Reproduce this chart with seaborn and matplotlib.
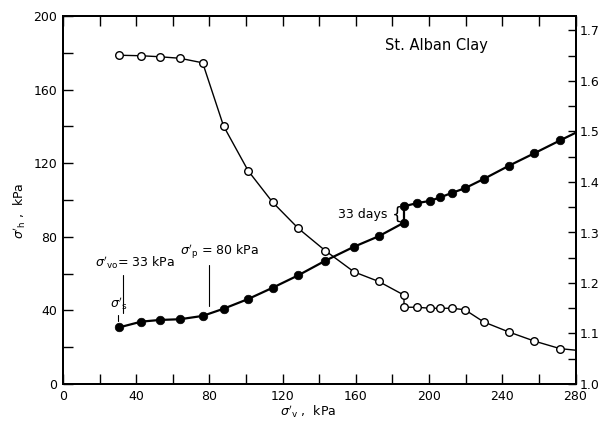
import matplotlib
matplotlib.use("Agg")
import matplotlib.pyplot as plt
from matplotlib.ticker import MultipleLocator, FormatStrFormatter
import seaborn as sns
import pandas as pd

# Vertical effective stress at each load step, kPa
sigma_v = [30.8, 42.8, 52.9, 63.9, 76.3, 87.7, 101.2, 114.5, 128.6, 143.3, 159.0,
           172.5, 186.3, 186.3, 193.4, 200.4, 206.0, 212.6, 219.6, 229.8, 243.6,
           257.5, 271.6]
# Horizontal effective stress, kPa (filled circles, left axis)
sigma_h = [30.8, 33.9, 34.8, 35.2, 37.0, 40.9, 46.2, 52.3, 59.1, 67.0, 74.6,
           80.3, 87.7, 96.6, 98.3, 99.5, 101.4, 103.9, 106.4, 111.4, 118.6,
           125.4, 132.4]
# Void ratio (open circles, right axis)
void_ratio = [1.651, 1.650, 1.648, 1.645, 1.636, 1.511, 1.422, 1.360, 1.308,
              1.264, 1.222, 1.203, 1.176, 1.152, 1.152, 1.150, 1.150, 1.150,
              1.147, 1.123, 1.103, 1.085, 1.070]
# Trend lines are carried on to the edge of the plot
sigma_v_edge = 280.0
sigma_h_edge = 136.5
void_ratio_edge = 1.067

sigma_vo = 33    # in-situ vertical stress, kPa
sigma_p = 80     # preconsolidation pressure, kPa
sigma_s = 30     # swelling stress marker, kPa

df = pd.DataFrame({"sv": sigma_v, "sh": sigma_h, "e": void_ratio})
line_df = pd.DataFrame({"sv": sigma_v + [sigma_v_edge],
                        "sh": sigma_h + [sigma_h_edge],
                        "e": void_ratio + [void_ratio_edge]})

sns.set_theme(style="ticks")
plt.rcParams["font.family"] = ["DejaVu Sans"]
plt.rcParams["mathtext.fontset"] = "dejavusans"
for key in ("text.color", "axes.labelcolor", "xtick.color", "ytick.color",
            "axes.edgecolor"):
    plt.rcParams[key] = "black"

fig = plt.figure(figsize=(6.07, 4.23), dpi=100)
ax = fig.add_axes([63 / 607, 1 - 384 / 423, 512.5 / 607, 368 / 423])
ax2 = ax.twinx()

# Horizontal stress path
sns.lineplot(data=line_df, x="sv", y="sh", sort=False, estimator=None,
             color="black", linewidth=1.6, ax=ax)
sns.scatterplot(data=df, x="sv", y="sh", color="black", s=38,
                edgecolor="black", linewidth=0.5, zorder=5, ax=ax)

# Void ratio curve
sns.lineplot(data=line_df, x="sv", y="e", sort=False, estimator=None,
             color="black", linewidth=1.0, ax=ax2)
sns.scatterplot(data=df, x="sv", y="e", color="white", s=30,
                edgecolor="black", linewidth=1.0, zorder=5, ax=ax2)

ax.set_xlim(0, 280)
ax.set_ylim(0, 200)
ax2.set_ylim(1.0, 1.0 + 368 / 505)

ax.xaxis.set_major_locator(MultipleLocator(40))
ax.xaxis.set_minor_locator(MultipleLocator(20))
ax.yaxis.set_major_locator(MultipleLocator(40))
ax.yaxis.set_minor_locator(MultipleLocator(20))
ax2.yaxis.set_major_locator(MultipleLocator(0.1))
ax2.yaxis.set_minor_locator(MultipleLocator(0.05))
ax2.yaxis.set_major_formatter(FormatStrFormatter("%.1f"))

ax.tick_params(which="both", direction="in", top=True, right=False,
               length=7, width=1.0, labelsize=9, pad=4, colors="black")
ax2.tick_params(which="both", direction="in", right=True, length=6,
                width=1.0, labelsize=9, pad=3, colors="black")

for a in (ax, ax2):
    for sp in a.spines.values():
        sp.set_linewidth(1.4)
        sp.set_color("black")

ax.set_xlabel("")
ax.set_ylabel("")
ax2.set_ylabel("")
ax.text(0.479, -0.076, r"$\sigma'_{\rm v}$ ,  kPa", transform=ax.transAxes,
        ha="center", va="center", fontsize=9)
ax.text(-0.084, 0.47, r"$\sigma'_{\rm h}$ ,  kPa", transform=ax.transAxes,
        ha="center", va="center", rotation=90, fontsize=9)

ax.text(204, 184, "St. Alban Clay", ha="center", va="center", fontsize=10.5)

# Stress markers
ax.plot([sigma_vo, sigma_vo], [38.6, 59.2], color="black", linewidth=0.8)
ax.text(17.5, 65.8, r"$\sigma'_{\rm vo}$= 33 kPa", ha="left", va="center",
        fontsize=9)
ax.plot([sigma_p, sigma_p], [42.4, 64.7], color="black", linewidth=0.8)
ax.text(63.9, 71.7, r"$\sigma'_{\rm p}$ = 80 kPa", ha="left", va="center",
        fontsize=9)
ax.plot([sigma_s, sigma_s], [34.2, 37.5], color="black", linewidth=0.8)
ax.text(25.7, 43.5, r"$\sigma'_{\rm s}$", ha="left", va="center", fontsize=9)

ax.text(177, 92, "33 days", ha="right", va="center", fontsize=9)
ax.text(179.5, 92, "{", ha="left", va="center", fontsize=12)

fig.savefig("out.png", dpi=100)
